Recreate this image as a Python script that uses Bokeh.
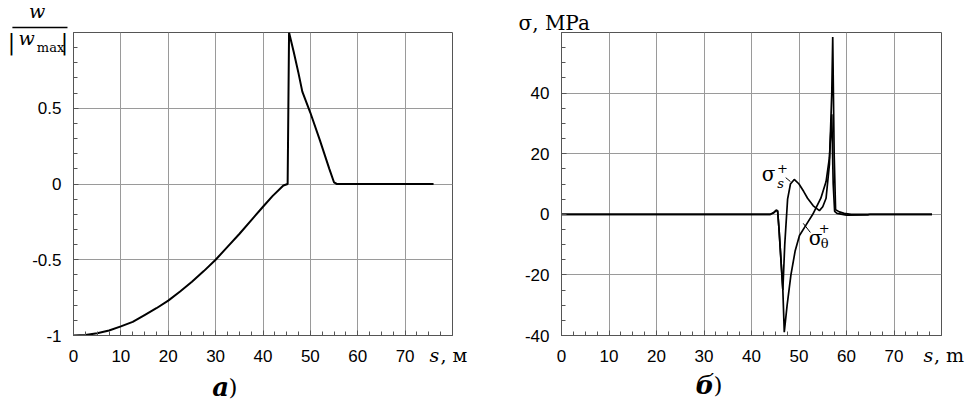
from bokeh.plotting import figure
from bokeh.models import FixedTicker, Range1d
from bokeh.core.properties import value
from bokeh.layouts import row
from bokeh.embed import file_html
from bokeh.resources import INLINE

# ---------- data (a): normalized deflection ----------
s_w = [0, 2.5, 5, 7.5, 10, 12.5, 15, 17.5, 20, 22.5, 25, 27.5, 30, 32.5, 35, 37.5, 40, 42, 44.3, 45.2,
       45.5, 46.5, 47.5, 48.3, 50, 52, 54, 55, 55.6, 57, 76]
w_norm = [-1, -0.997, -0.985, -0.967, -0.94, -0.91, -0.865, -0.82, -0.77, -0.71, -0.645, -0.575, -0.5,
          -0.415, -0.33, -0.24, -0.15, -0.08, -0.01, 0.0,
          1.0, 0.87, 0.73, 0.61, 0.47, 0.29, 0.1, 0.01, 0.0, 0.0, 0.0]

# ---------- data (б): stresses ----------
s_s = [0, 44, 44.6, 45.2, 45.5, 45.8, 46.6, 47.0, 47.6, 48.2, 49.0, 50.0, 51.0, 51.8, 53.0, 54.3, 55.0, 55.7, 56.4, 56.9, 57.1, 57.4, 57.7, 58.5, 59.5, 61, 78]
sigma_s = [0, 0, 0.5, 1.4, 1.2, -5, -25, -10, 5, 10, 11.5, 10, 7.5, 5.3, 2.8, 1.2, 2.5, 5.3, 16.4, 40, 58.5, 20, 1.5, 0.8, 0.3, 0, 0]
s_t = [0, 44, 44.6, 45.2, 45.5, 45.8, 46.6, 46.9, 47.5, 48.3, 49.2, 50.1, 51.5, 52.9, 54.6, 55.7, 56.4, 56.9, 57.2, 57.5, 58.0, 60, 64.5, 65, 78]
sigma_t = [0, 0, 0.4, 1.2, 1.0, -5, -25, -38.9, -30, -20, -12, -7, -3.5, 0, 5.3, 10.8, 18.6, 33, 10, 1, 0.3, -0.3, -0.2, 0, 0]

x_ticks = [0, 10, 20, 30, 40, 50, 60, 70]
x_minor = [i * 2.5 for i in range(33)]
w_ticks = [-1, -0.5, 0, 0.5]
w_minor = [round(-1 + 0.1 * i, 2) for i in range(21)]
sig_ticks = [-40, -20, 0, 20, 40]
sig_minor = [-40 + 5 * i for i in range(21)]

SERIF = "DejaVu Serif"
SANS = "Liberation Sans"


def style(p, xt, xm, yt, ym):
    p.xaxis.ticker = FixedTicker(ticks=xt, minor_ticks=xm)
    p.yaxis.ticker = FixedTicker(ticks=yt, minor_ticks=ym)
    p.yaxis.major_label_overrides = {t: str(t) for t in yt}
    for ax in (p.xaxis[0], p.yaxis[0]):
        ax.axis_line_color = "#555555"
        ax.major_tick_in = 5
        ax.major_tick_out = 0
        ax.minor_tick_in = 4
        ax.minor_tick_out = 0
        ax.major_tick_line_color = "#555555"
        ax.minor_tick_line_color = "#555555"
        ax.major_label_text_font = SANS
        ax.major_label_text_font_size = "17px"
        ax.major_label_text_color = "black"
    p.xaxis.major_label_standoff = 14
    p.yaxis.major_label_standoff = 12
    p.grid.grid_line_color = "#9a9a9a"
    p.grid.grid_line_width = 1
    p.outline_line_color = "#555555"
    p.background_fill_color = "white"
    p.border_fill_color = "white"


def txt(p, x, y, t, size, style_="normal", align="left"):
    p.text(x=[x], y=[y], text=[t], text_font=value(SERIF), text_font_style=style_,
           text_font_size=size, text_align=align, text_baseline="middle",
           text_color="black", level="overlay")


# ---------- panel (a) ----------
p1 = figure(width=480, height=401, output_backend="svg", toolbar_location=None,
            x_range=Range1d(0, 80), y_range=Range1d(-1, 1),
            min_border_left=73, min_border_right=28, min_border_top=32, min_border_bottom=66)
style(p1, x_ticks, x_minor, w_ticks, w_minor)
p1.line(s_w, w_norm, line_color="black", line_width=2)

txt(p1, -7.7, 1.145, "w", "19px", "italic", "center")
p1.segment(x0=[-12.9], y0=[1.033], x1=[-1.27], y1=[1.033], line_color="black",
           line_width=1.3, level="overlay")
txt(p1, -13.1, 0.934, "|", "22px", "normal", "center")
txt(p1, -9.9, 0.964, "w", "19px", "italic", "center")
txt(p1, -4.85, 0.901, "max", "13px", "normal", "center")
txt(p1, -1.9, 0.934, "|", "22px", "normal", "center")
txt(p1, 75.15, -1.132, "s", "19px", "italic")
txt(p1, 77.47, -1.132, ", м", "19px")
txt(p1, 29.3, -1.34, "а", "26px", "bold italic")
txt(p1, 32.7, -1.34, ")", "23px")

# ---------- panel (б) ----------
p2 = figure(width=486, height=401, output_backend="svg", toolbar_location=None,
            x_range=Range1d(0, 80), y_range=Range1d(-40, 60),
            min_border_left=81, min_border_right=25, min_border_top=32, min_border_bottom=66)
style(p2, x_ticks, x_minor, sig_ticks, sig_minor)
p2.line(s_s, sigma_s, line_color="black", line_width=1.7)
p2.line(s_t, sigma_t, line_color="black", line_width=1.7)

txt(p2, -9.05, 63.3, "σ, MPa", "20px")
txt(p2, 76.2, -46.6, "s", "19px", "italic")
txt(p2, 78.4, -46.6, ", m", "19px")
txt(p2, 28.2, -56.5, "б", "26px", "bold italic")
txt(p2, 32.0, -56.5, ")", "23px")

# curve labels
txt(p2, 43.6, 13.4, "σ", "20px", "normal", "center")
txt(p2, 46.5, 15.3, "+", "13px", "normal", "center")
txt(p2, 46.1, 10.3, "s", "13px", "italic", "center")
p2.segment(x0=[47.2], y0=[12.1], x1=[48.2], y1=[10.8], line_color="black", line_width=1)
txt(p2, 53.5, -7.7, "σ", "20px", "normal", "center")
txt(p2, 55.3, -4.6, "+", "13px", "normal", "center")
txt(p2, 55.4, -9.8, "θ", "13px", "normal", "center")
p2.segment(x0=[50.9], y0=[-3.0], x1=[52.4], y1=[-6.0], line_color="black", line_width=1)

layout = row(p1, p2)
open("out.html", "w").write(file_html(layout, INLINE))
